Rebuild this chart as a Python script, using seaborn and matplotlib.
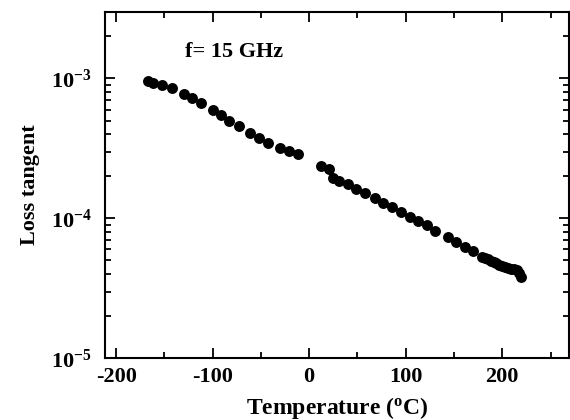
import numpy as np
import pandas as pd
import matplotlib
matplotlib.use("Agg")
import matplotlib.pyplot as plt
from matplotlib.ticker import LogLocator, NullFormatter, FuncFormatter, MultipleLocator
import seaborn as sns

# loss tangent vs temperature at 15 GHz
temp_low = [-167, -162, -152, -142, -130, -121, -112, -100, -91, -83, -73, -61, -52, -43, -30, -21, -12]
tand_low = [9.6e-4, 9.3e-4, 8.95e-4, 8.5e-4, 7.8e-4, 7.2e-4, 6.7e-4, 5.95e-4, 5.45e-4, 4.98e-4,
            4.56e-4, 4.11e-4, 3.77e-4, 3.47e-4, 3.18e-4, 3.01e-4, 2.88e-4]

temp_high = [12, 21, 25, 31, 40, 49, 58, 68, 77, 86, 95, 104, 113, 122, 130, 144, 152, 161, 170, 179,
             182, 185, 188, 191, 194, 197, 200, 203, 206, 209, 212, 215, 217.5, 219.7]
tand_high = [2.35e-4, 2.24e-4, 1.95e-4, 1.86e-4, 1.75e-4, 1.61e-4, 1.51e-4, 1.39e-4, 1.29e-4, 1.21e-4,
             1.11e-4, 1.03e-4, 9.6e-5, 8.95e-5, 8.15e-5, 7.4e-5, 6.75e-5, 6.27e-5, 5.8e-5, 5.33e-5,
             5.22e-5, 5.10e-5, 4.98e-5, 4.88e-5, 4.78e-5, 4.68e-5, 4.58e-5, 4.50e-5, 4.42e-5, 4.36e-5,
             4.33e-5, 4.25e-5, 4.05e-5, 3.83e-5]

df = pd.DataFrame({"temp": temp_low + temp_high, "tand": tand_low + tand_high})

sns.set_style("ticks")
plt.rcParams['font.family'] = ['Liberation Serif', 'DejaVu Serif']
plt.rcParams['font.weight'] = 'bold'
plt.rcParams['mathtext.fontset'] = 'custom'
plt.rcParams['mathtext.rm'] = 'Liberation Serif:bold'
plt.rcParams['mathtext.bf'] = 'Liberation Serif:bold'
plt.rcParams['mathtext.it'] = 'Liberation Serif:bold:italic'
plt.rcParams['mathtext.default'] = 'rm'
for key in ['text.color', 'axes.labelcolor', 'xtick.color', 'ytick.color', 'axes.edgecolor']:
    plt.rcParams[key] = 'black'

fig = plt.figure(figsize=(5.7, 4.2), dpi=100)
ax = fig.add_axes([0.185, 0.147, 0.813, 0.825])

sns.scatterplot(data=df, x="temp", y="tand", ax=ax, color="black", s=62,
                edgecolor="black", linewidth=0, legend=False)

ax.set_yscale("log")
ax.set_xlim(-211, 269)
ax.set_ylim(1e-5, 3e-3)

ax.xaxis.set_major_locator(MultipleLocator(100))
ax.xaxis.set_minor_locator(MultipleLocator(50))
ax.yaxis.set_major_locator(LogLocator(base=10, numticks=10))
ax.yaxis.set_minor_locator(LogLocator(base=10, subs=np.arange(2, 10), numticks=20))
ax.yaxis.set_minor_formatter(NullFormatter())
ax.yaxis.set_major_formatter(FuncFormatter(lambda v, p: r'$10^{%d}$' % round(np.log10(v))))
ax.xaxis.set_major_formatter(FuncFormatter(lambda v, p: '%d' % v))

for side in ax.spines.values():
    side.set_linewidth(1.5)
    side.set_color("black")
ax.tick_params(which="both", direction="in", top=True, right=True, width=1.3, colors="black")
ax.tick_params(which="major", length=7)
ax.tick_params(which="minor", length=4)
ax.tick_params(axis="x", labelsize=16, pad=6)
ax.tick_params(axis="y", labelsize=16, pad=10)

ax.set_xlabel(r'Temperature ($^{\rm o}$C)', fontsize=17, fontweight="bold", labelpad=6)
ax.set_ylabel('Loss tangent', fontsize=16, fontweight="bold", labelpad=8)

ax.text(0.171, 0.869, 'f= 15 GHz', transform=ax.transAxes, fontsize=16, fontweight="bold")

plt.savefig("out.png", dpi=100)
